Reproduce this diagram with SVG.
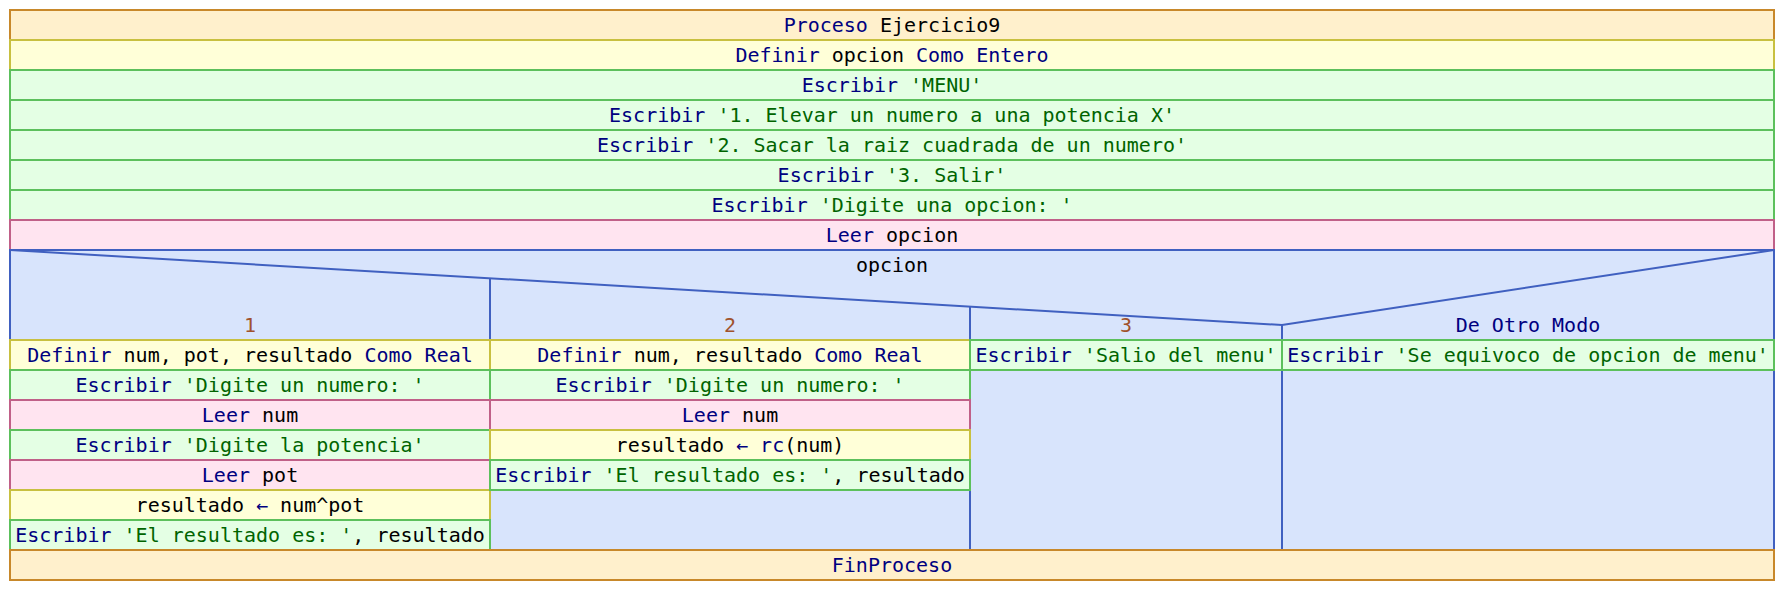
<svg xmlns="http://www.w3.org/2000/svg" width="1784" height="590" viewBox="0 0 1784 590">
<style>
text{font-family:"DejaVu Sans Mono","Liberation Mono",monospace;font-size:20px;text-anchor:middle;fill:#000;white-space:pre}
.k{fill:#000080}.s{fill:#006400}.n{fill:#a0522d}
.proc{fill:#fff0cc;stroke:#c8882a;stroke-width:2}
.def{fill:#ffffd8;stroke:#c8c040;stroke-width:2}
.esc{fill:#e4ffe4;stroke:#5cc05c;stroke-width:2}
.leer{fill:#ffe4f0;stroke:#c06088;stroke-width:2}
.sw{fill:#d8e4fc;stroke:#4060c0;stroke-width:2}
.ln{fill:none;stroke:#4060c0;stroke-width:2}
</style>
<rect x="0" y="0" width="1784" height="590" fill="#fff"/>
<g id="proceso"><rect class="proc" x="10" y="10" width="1764" height="30"/><text x="892" y="32"><tspan class="k">Proceso </tspan>Ejercicio9</text></g>
<g id="definir"><rect class="def" x="10" y="40" width="1764" height="30"/><text x="892" y="62"><tspan class="k">Definir </tspan>opcion<tspan class="k"> Como Entero</tspan></text></g>
<g id="esc1"><rect class="esc" x="10" y="70" width="1764" height="30"/><text x="892" y="92"><tspan class="k">Escribir </tspan><tspan class="s">'MENU'</tspan></text></g>
<g id="esc2"><rect class="esc" x="10" y="100" width="1764" height="30"/><text x="892" y="122"><tspan class="k">Escribir </tspan><tspan class="s">'1. Elevar un numero a una potencia X'</tspan></text></g>
<g id="esc3"><rect class="esc" x="10" y="130" width="1764" height="30"/><text x="892" y="152"><tspan class="k">Escribir </tspan><tspan class="s">'2. Sacar la raiz cuadrada de un numero'</tspan></text></g>
<g id="esc4"><rect class="esc" x="10" y="160" width="1764" height="30"/><text x="892" y="182"><tspan class="k">Escribir </tspan><tspan class="s">'3. Salir'</tspan></text></g>
<g id="esc5"><rect class="esc" x="10" y="190" width="1764" height="30"/><text x="892" y="212"><tspan class="k">Escribir </tspan><tspan class="s">'Digite una opcion: '</tspan></text></g>
<g id="leer"><rect class="leer" x="10" y="220" width="1764" height="30"/><text x="892" y="242"><tspan class="k">Leer </tspan>opcion</text></g>
<g id="segun">
<rect class="sw" x="10" y="250" width="1764" height="300"/>
<polyline class="ln" points="10,250 1282,325 1774,250"/>
<line class="ln" x1="490" y1="278.3" x2="490" y2="550"/>
<line class="ln" x1="970" y1="306.6" x2="970" y2="550"/>
<line class="ln" x1="1282" y1="325" x2="1282" y2="550"/>
<text x="892" y="272">opcion</text>
<text class="n" x="250" y="332">1</text>
<text class="n" x="730" y="332">2</text>
<text class="n" x="1126" y="332">3</text>
<text class="k" x="1528" y="332">De Otro Modo</text>
</g>
<g id="c1_def"><rect class="def" x="10" y="340" width="480" height="30"/><text x="250" y="362"><tspan class="k">Definir </tspan>num, pot, resultado<tspan class="k"> Como Real</tspan></text></g>
<g id="c1_esc1"><rect class="esc" x="10" y="370" width="480" height="30"/><text x="250" y="392"><tspan class="k">Escribir </tspan><tspan class="s">'Digite un numero: '</tspan></text></g>
<g id="c1_leer1"><rect class="leer" x="10" y="400" width="480" height="30"/><text x="250" y="422"><tspan class="k">Leer </tspan>num</text></g>
<g id="c1_esc2"><rect class="esc" x="10" y="430" width="480" height="30"/><text x="250" y="452"><tspan class="k">Escribir </tspan><tspan class="s">'Digite la potencia'</tspan></text></g>
<g id="c1_leer2"><rect class="leer" x="10" y="460" width="480" height="30"/><text x="250" y="482"><tspan class="k">Leer </tspan>pot</text></g>
<g id="c1_asig"><rect class="def" x="10" y="490" width="480" height="30"/><text x="250" y="512">resultado <tspan class="k">←</tspan> num^pot</text></g>
<g id="c1_esc3"><rect class="esc" x="10" y="520" width="480" height="30"/><text x="250" y="542"><tspan class="k">Escribir </tspan><tspan class="s">'El resultado es: '</tspan>, resultado</text></g>
<g id="c2_def"><rect class="def" x="490" y="340" width="480" height="30"/><text x="730" y="362"><tspan class="k">Definir </tspan>num, resultado<tspan class="k"> Como Real</tspan></text></g>
<g id="c2_esc1"><rect class="esc" x="490" y="370" width="480" height="30"/><text x="730" y="392"><tspan class="k">Escribir </tspan><tspan class="s">'Digite un numero: '</tspan></text></g>
<g id="c2_leer"><rect class="leer" x="490" y="400" width="480" height="30"/><text x="730" y="422"><tspan class="k">Leer </tspan>num</text></g>
<g id="c2_asig"><rect class="def" x="490" y="430" width="480" height="30"/><text x="730" y="452">resultado <tspan class="k">← rc</tspan>(num)</text></g>
<g id="c2_esc2"><rect class="esc" x="490" y="460" width="480" height="30"/><text x="730" y="482"><tspan class="k">Escribir </tspan><tspan class="s">'El resultado es: '</tspan>, resultado</text></g>
<g id="c3_esc"><rect class="esc" x="970" y="340" width="312" height="30"/><text x="1126" y="362"><tspan class="k">Escribir </tspan><tspan class="s">'Salio del menu'</tspan></text></g>
<g id="c4_esc"><rect class="esc" x="1282" y="340" width="492" height="30"/><text x="1528" y="362"><tspan class="k">Escribir </tspan><tspan class="s">'Se equivoco de opcion de menu'</tspan></text></g>
<g id="finproceso"><rect class="proc" x="10" y="550" width="1764" height="30"/><text class="k" x="892" y="572">FinProceso</text></g>
<g id="connectors"></g>
</svg>
